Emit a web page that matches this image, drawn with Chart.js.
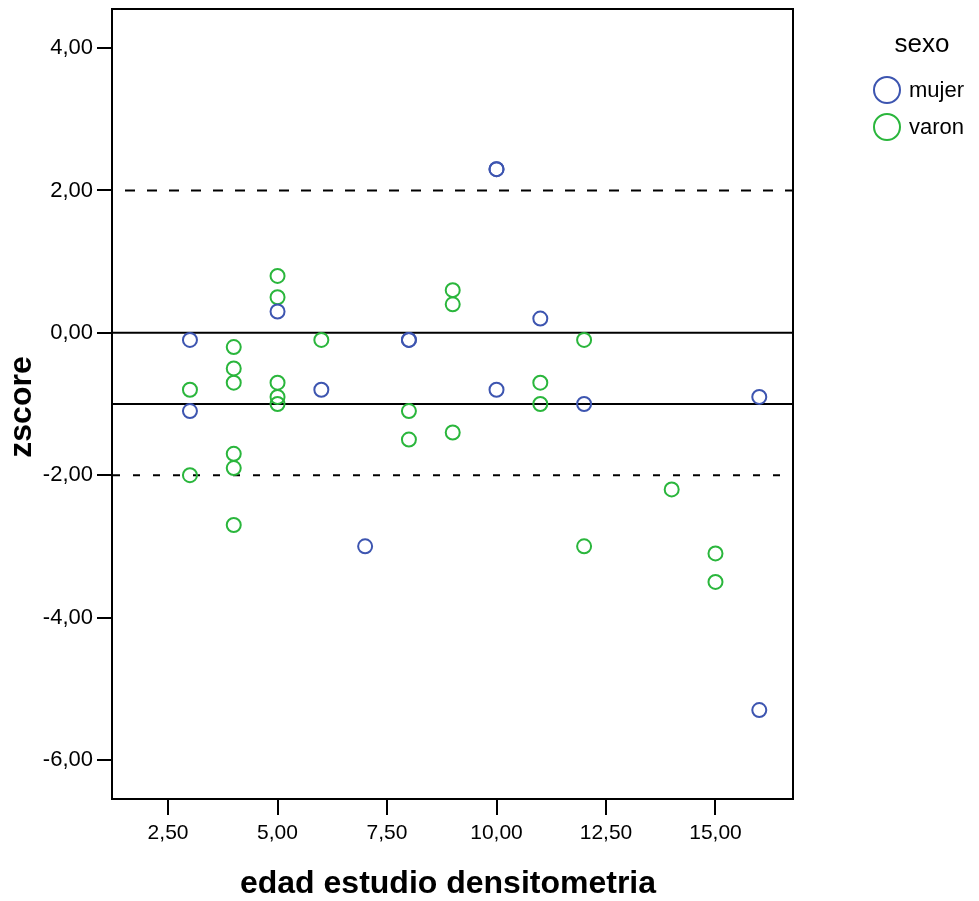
<!DOCTYPE html>
<html>
<head>
<meta charset="utf-8">
<script src="https://cdn.jsdelivr.net/npm/chart.js@4"></script>
<style>
  html, body { margin: 0; padding: 0; background: #fff; }
  #wrap { width: 979px; height: 901px; }
</style>
</head>
<body>
<div id="wrap"><canvas id="zChart" width="979" height="901"></canvas></div>
<script>
// data
const mujerX = [3, 3, 5, 6, 7, 8, 8, 10, 10, 10, 11, 12, 16, 16];
const mujerY = [-0.1, -1.1, 0.3, -0.8, -3.0, -0.1, -0.1, 2.3, 2.3, -0.8, 0.2, -1.0, -0.9, -5.3];
const varonX = [3, 3, 4, 4, 4, 4, 4, 4, 5, 5, 5, 5, 5, 6, 8, 8, 9, 9, 9, 11, 11, 12, 12, 14, 15, 15];
const varonY = [-0.8, -2.0, -0.2, -0.5, -0.7, -1.7, -1.9, -2.7, 0.8, 0.5, -0.7, -0.9, -1.0, -0.1, -1.1, -1.5, 0.6, 0.4, -1.4, -0.7, -1.0, -0.1, -3.0, -2.2, -3.1, -3.5];
const refSolid = [0, -1];
const refDashed = [2, -2];
const xTicks = [2.5, 5, 7.5, 10, 12.5, 15];
const yTicks = [-6, -4, -2, 0, 2, 4];
const seriesNames = ["mujer", "varon"];

const X_MIN = 1.22, X_MAX = 16.77;
const Y_MIN = -6.55, Y_MAX = 4.55;
const FONT = "'Liberation Sans', Arial, sans-serif";
const BLUE = "#3d55b0";
const GREEN = "#2ab63c";

const fmt = v => Number(v).toFixed(2).replace(".", ",");
const pts = (xs, ys) => xs.map((x, i) => ({ x: x, y: ys[i] }));

function refLine(y, dash, offset) {
  return {
    type: "line",
    data: [{ x: X_MIN, y: y }, { x: X_MAX, y: y }],
    borderColor: "#000",
    borderWidth: 2,
    borderDash: dash,
    borderDashOffset: offset,
    pointRadius: 0,
    fill: false,
    order: 2
  };
}

// frame, axis titles and legend
const extras = {
  id: "extras",
  beforeDatasetsDraw(chart) {
    const { ctx, chartArea: a } = chart;
    ctx.save();
    ctx.strokeStyle = "#000";
    ctx.lineWidth = 2;
    ctx.strokeRect(a.left, a.top, a.right - a.left, a.bottom - a.top);
    ctx.restore();
  },
  afterDraw(chart) {
    const ctx = chart.ctx;
    ctx.save();
    ctx.fillStyle = "#000";
    ctx.textAlign = "center";
    ctx.textBaseline = "middle";
    ctx.font = "bold 32px " + FONT;
    ctx.fillText("edad estudio densitometria", 448, 884);
    ctx.save();
    ctx.translate(22, 407);
    ctx.rotate(-Math.PI / 2);
    ctx.fillText("zscore", 0, 0);
    ctx.restore();

    ctx.font = "26px " + FONT;
    ctx.fillText("sexo", 922, 45);
    const cols = [BLUE, GREEN];
    ctx.font = "22px " + FONT;
    ctx.textAlign = "left";
    seriesNames.forEach((name, i) => {
      const cy = 90 + i * 37;
      ctx.beginPath();
      ctx.arc(887, cy, 13, 0, Math.PI * 2);
      ctx.strokeStyle = cols[i];
      ctx.lineWidth = 2;
      ctx.stroke();
      ctx.fillText(name, 909, cy + 1);
    });
    ctx.restore();
  }
};

new Chart(document.getElementById("zChart"), {
  type: "scatter",
  data: {
    datasets: [
      {
        label: seriesNames[0],
        data: pts(mujerX, mujerY),
        borderColor: BLUE,
        backgroundColor: "rgba(0,0,0,0)",
        borderWidth: 2,
        pointRadius: 7,
        pointHoverRadius: 7,
        order: 1
      },
      {
        label: seriesNames[1],
        data: pts(varonX, varonY),
        borderColor: GREEN,
        backgroundColor: "rgba(0,0,0,0)",
        borderWidth: 2,
        pointRadius: 7,
        pointHoverRadius: 7,
        order: 1
      },
      refLine(refSolid[0], [], 0),
      refLine(refSolid[1], [], 0),
      refLine(refDashed[0], [10, 12], 9),
      refLine(refDashed[1], [7, 13], 19)
    ]
  },
  options: {
    responsive: false,
    animation: false,
    layout: { padding: { left: 0, top: 8, right: 186, bottom: 0 } },
    plugins: { legend: { display: false }, tooltip: { enabled: false } },
    scales: {
      x: {
        type: "linear",
        min: X_MIN,
        max: X_MAX,
        afterBuildTicks: s => { s.ticks = xTicks.map(v => ({ value: v })); },
        afterFit: s => { s.height = 102; s.paddingLeft = 0; s.paddingRight = 0; },
        ticks: {
          font: { family: FONT, size: 21 },
          color: "#000",
          padding: 6,
          maxRotation: 0,
          autoSkip: false,
          callback: v => fmt(v)
        },
        grid: { drawOnChartArea: false, drawTicks: true, tickLength: 16, lineWidth: 2, tickWidth: 2, tickColor: "#000" },
        border: { display: true, color: "#000", width: 2 }
      },
      y: {
        type: "linear",
        min: Y_MIN,
        max: Y_MAX,
        afterBuildTicks: s => { s.ticks = yTicks.map(v => ({ value: v })); },
        afterFit: s => { s.width = 112; s.paddingTop = 0; s.paddingBottom = 0; },
        ticks: {
          font: { family: FONT, size: 22 },
          color: "#000",
          padding: 4,
          autoSkip: false,
          callback: v => fmt(v)
        },
        grid: { drawOnChartArea: false, drawTicks: true, tickLength: 15, lineWidth: 2, tickWidth: 2, tickColor: "#000" },
        border: { display: true, color: "#000", width: 2 }
      }
    }
  },
  plugins: [extras]
});
</script>
</body>
</html>
